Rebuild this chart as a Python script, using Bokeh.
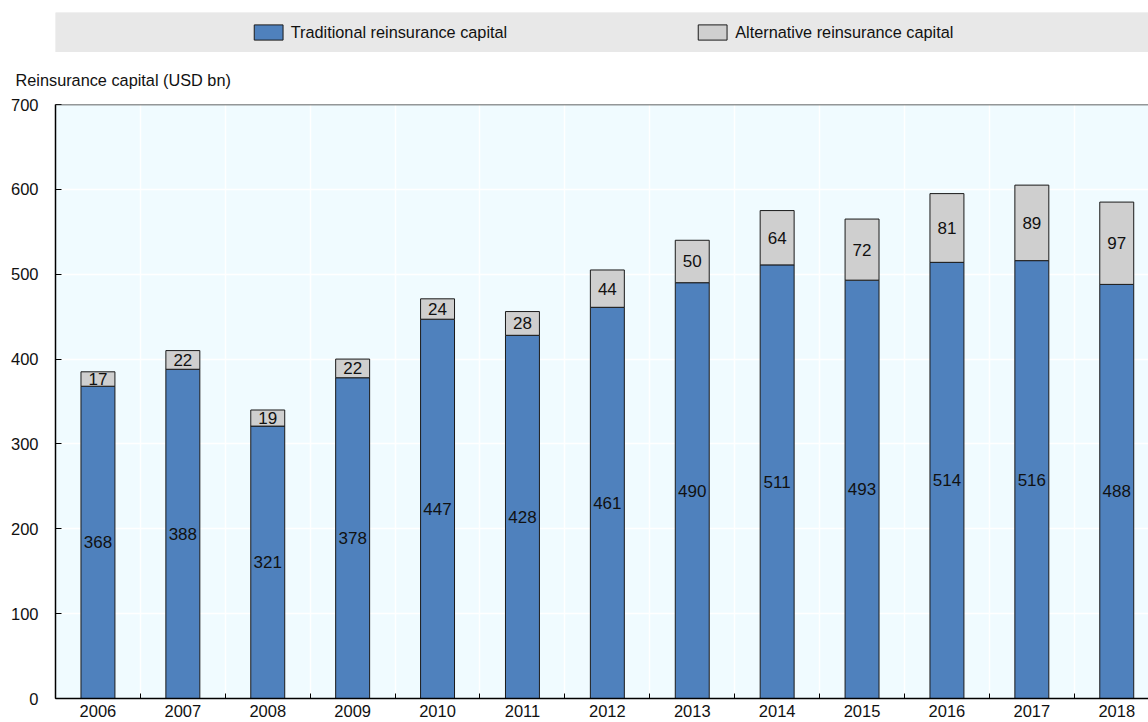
from bokeh.plotting import figure
from bokeh.models import (ColumnDataSource, Range1d, FixedTicker, Legend, LegendItem,
                          Title, Span, BoxAnnotation)
from bokeh.layouts import column
from bokeh.core.properties import value
from bokeh.embed import file_html
from bokeh.resources import INLINE

years = ["2006", "2007", "2008", "2009", "2010", "2011", "2012",
         "2013", "2014", "2015", "2016", "2017", "2018"]
traditional = [368, 388, 321, 378, 447, 428, 461, 490, 511, 493, 514, 516, 488]
alternative = [17, 22, 19, 22, 24, 28, 44, 50, 64, 72, 81, 89, 97]
y_ticks = [0, 100, 200, 300, 400, 500, 600, 700]

FONT = "Liberation Sans"
BLUE = "#4f81bd"
GRAY = "#cfcfcf"
EDGE = "#1a1a1a"
BG = "#f0fbff"
TXT = "#111111"
STRIP = "#e8e8e8"

xs = list(range(len(years)))
src = ColumnDataSource(dict(
    x=xs,
    trad=traditional,
    alt=alternative,
    trad_mid=[t / 2 for t in traditional],
    alt_mid=[t + a / 2 for t, a in zip(traditional, alternative)],
    trad_lbl=[str(v) for v in traditional],
    alt_lbl=[str(v) for v in alternative],
))

# ---------- legend strip ----------
top = figure(width=1148, height=52, output_backend="svg", toolbar_location=None,
             x_range=Range1d(-0.5, 12.374), y_range=Range1d(0, 700),
             min_border_left=55, min_border_right=0, min_border_top=12, min_border_bottom=0)
top.axis.visible = False
top.grid.visible = False
top.outline_line_color = None
top.background_fill_color = STRIP
r1 = top.vbar(x="x", top="trad", width=0.4, source=src, fill_color=BLUE, line_color=EDGE)
r2 = top.vbar(x="x", top="alt", width=0.4, source=src, fill_color=GRAY, line_color=EDGE)
# opaque strip covering the proxy bars; the legend is drawn over it
top.add_layout(BoxAnnotation(fill_color=STRIP, fill_alpha=1, line_color=None, level="annotation"))
leg = Legend(items=[LegendItem(label="Traditional reinsurance capital", renderers=[r1]),
                    LegendItem(label="Alternative reinsurance capital", renderers=[r2])],
             orientation="horizontal", location="center", level="overlay",
             glyph_width=36, glyph_height=19, label_standoff=5, spacing=187,
             padding=0, margin=0, background_fill_alpha=0, border_line_color=None,
             label_text_font=FONT, label_text_font_size="16.3px", label_text_color=TXT)
top.add_layout(leg, "center")

# ---------- main chart ----------
p = figure(width=1148, height=670, output_backend="svg", toolbar_location=None,
           x_range=Range1d(-0.5, 12.374), y_range=Range1d(0, 700),
           min_border_left=55, min_border_right=0, min_border_top=47, min_border_bottom=24)
p.background_fill_color = BG
p.outline_line_color = None

p.vbar_stack(["trad", "alt"], x="x", width=0.4, source=src,
             fill_color=[BLUE, GRAY], line_color=EDGE, line_width=1)

p.text(x="x", y="trad_mid", text="trad_lbl", source=src, text_align="center",
       text_baseline="middle", text_font=value(FONT), text_font_size="17px", text_color=TXT)
p.text(x="x", y="alt_mid", text="alt_lbl", source=src, text_align="center",
       text_baseline="middle", text_font=value(FONT), text_font_size="17px", text_color=TXT)

p.add_layout(Span(location=700, dimension="width", line_color="#333333", line_width=1.5))

p.xaxis.ticker = FixedTicker(ticks=xs, minor_ticks=[i - 0.5 for i in range(len(years) + 1)])
p.xaxis.major_label_overrides = {i: y for i, y in zip(xs, years)}
p.xaxis.major_tick_in = 0
p.xaxis.major_tick_out = 0
p.xaxis.minor_tick_in = 5
p.xaxis.minor_tick_out = 0
p.xaxis.minor_tick_line_color = "black"
p.xaxis.major_label_standoff = 6

p.yaxis.ticker = FixedTicker(ticks=y_ticks)
p.yaxis.major_tick_in = 6
p.yaxis.major_tick_out = 0
p.yaxis.minor_tick_line_color = None
p.yaxis.major_label_standoff = 17

for ax in (p.xaxis, p.yaxis):
    ax.axis_line_color = "black"
    ax.axis_line_width = 1.5
    ax.major_tick_line_color = "black"
    ax.major_label_text_font = FONT
    ax.major_label_text_font_size = "16.5px"
    ax.major_label_text_color = TXT

p.xgrid.grid_line_color = None
p.xgrid.minor_grid_line_color = "white"
p.xgrid.minor_grid_line_width = 1.5
p.ygrid.grid_line_color = "white"
p.ygrid.grid_line_width = 1.5

p.add_layout(Title(text="Reinsurance capital (USD bn)", align="left", offset=-40,
                   text_font=FONT, text_font_size="16.3px", text_font_style="normal",
                   text_color=TXT, standoff=32), "above")

layout = column(top, p)
open("out.html", "w").write(file_html(layout, INLINE))
